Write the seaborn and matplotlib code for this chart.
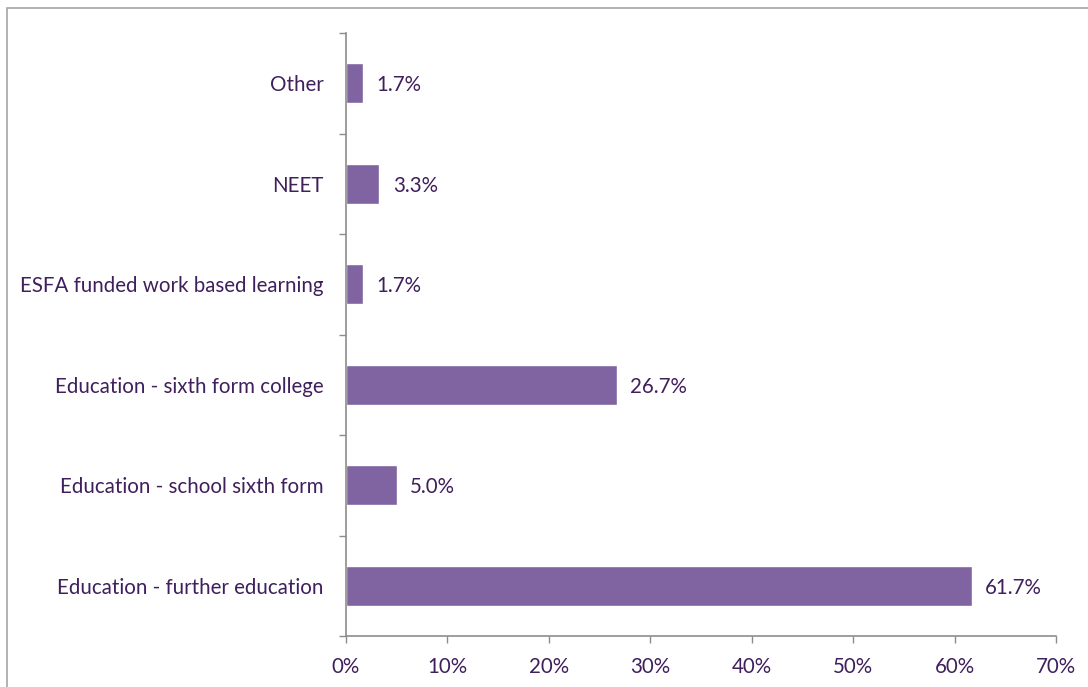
import matplotlib
matplotlib.use("Agg")
import matplotlib.pyplot as plt
import matplotlib.patches as mpatches
import pandas as pd
import seaborn as sns

categories = [
    "Other",
    "NEET",
    "ESFA funded work based learning",
    "Education - sixth form college",
    "Education - school sixth form",
    "Education - further education",
]
shares = [1.7, 3.3, 1.7, 26.7, 5.0, 61.7]
x_ticks = [0, 10, 20, 30, 40, 50, 60, 70]

bar_colour = "#8064A2"
text_colour = "#3F1F5C"
axis_colour = "#8C8C8C"

sns.set_style("white")
plt.rcParams["font.family"] = ["Lato", "DejaVu Sans"]

df = pd.DataFrame({"categoria": categories, "valor": shares})

fig = plt.figure(figsize=(10.88, 6.87), dpi=100)
ax = fig.add_axes([346 / 1088, 1 - 636 / 687, 710 / 1088, 603 / 687])

sns.barplot(data=df, x="valor", y="categoria", orient="h", color=bar_colour,
            saturation=1, width=0.4, ax=ax, order=categories)

# etiquetas de valor
for i, v in enumerate(shares):
    ax.text(v + 1.3, i + 0.02, f"{v:.1f}%", va="center", ha="left",
            fontsize=14.8, color=text_colour)

ax.set_xlim(0, 70)
ax.set_ylim(len(categories) - 0.5, -0.5)
ax.set_xticks(x_ticks)
ax.set_xticklabels([f"{t}%" for t in x_ticks])
ax.set_xlabel("")
ax.set_ylabel("")

# marcas del eje y entre categorias
ax.set_yticks([i - 0.5 for i in range(len(categories) + 1)], minor=True)
ax.tick_params(axis="y", which="major", length=0, pad=16, labelsize=14.8,
               labelcolor=text_colour)
ax.tick_params(axis="y", which="minor", length=5, width=1, color=axis_colour,
               direction="out", left=True)
ax.tick_params(axis="x", which="major", length=5, width=1, color=axis_colour,
               direction="out", bottom=True, labelsize=14.8,
               labelcolor=text_colour, pad=10)

for side in ["top", "right"]:
    ax.spines[side].set_visible(False)
for side in ["left", "bottom"]:
    ax.spines[side].set_visible(True)
    ax.spines[side].set_color(axis_colour)
    ax.spines[side].set_linewidth(1.2)

# borde del grafico
border = mpatches.Rectangle((7 / 1088, -0.1), 1.2, 1 - 8 / 687 + 0.1,
                            transform=fig.transFigure, fill=False,
                            edgecolor="#A6A6A6", linewidth=1.2)
fig.patches.append(border)

fig.savefig("out.png", dpi=100)
